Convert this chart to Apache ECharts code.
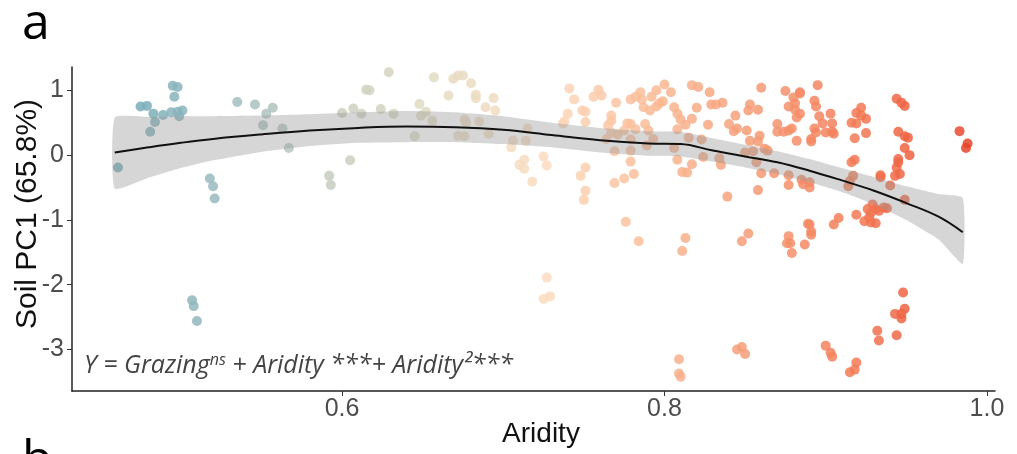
<!DOCTYPE html>
<html>
<head>
<meta charset="utf-8">
<script src="https://cdn.jsdelivr.net/npm/echarts@6/dist/echarts.min.js"></script>
<style>
  html, body { margin: 0; padding: 0; background: #fff; }
  #chart { width: 1017px; height: 454px; }
</style>
</head>
<body>
<div id="chart"></div>
<script>
// scatter: aridity vs soil PC1
const aridity = [
  0.461, 0.475, 0.479, 0.483, 0.484, 0.481, 0.489, 0.495, 0.498, 0.496, 0.494, 0.498, 0.501, 0.499,
  0.518, 0.520, 0.521, 0.535, 0.546, 0.557, 0.553, 0.551, 0.563, 0.567, 0.507, 0.508, 0.510,
  0.629, 0.615, 0.617, 0.600, 0.607, 0.612, 0.624, 0.632, 0.605, 0.592, 0.593,
  0.648, 0.649, 0.652, 0.656, 0.645, 0.657, 0.666, 0.669, 0.672, 0.675, 0.680, 0.683, 0.683,
  0.689, 0.694, 0.695, 0.676, 0.677, 0.685, 0.672, 0.676, 0.691, 0.706, 0.705, 0.714, 0.715,
  0.713, 0.710, 0.713, 0.718, 0.725, 0.727, 0.727, 0.725, 0.729,
  0.784, 0.813, 0.811, 0.848, 0.852, 0.776, 0.809, 0.809, 0.810, 0.845, 0.848, 0.850,
  0.741, 0.744, 0.756, 0.759, 0.761, 0.770, 0.779, 0.782, 0.785, 0.786, 0.792, 0.795, 0.800, 0.804,
  0.787, 0.795, 0.797, 0.799, 0.791, 0.749, 0.751, 0.740, 0.738, 0.737, 0.751, 0.767, 0.767, 0.765,
  0.777, 0.779, 0.788, 0.782, 0.790, 0.806, 0.808, 0.810, 0.813, 0.817, 0.808, 0.817, 0.821, 0.828,
  0.820, 0.829, 0.832, 0.836, 0.827, 0.840, 0.844, 0.843, 0.845, 0.853, 0.852, 0.858, 0.860, 0.851,
  0.853, 0.859, 0.858, 0.862, 0.864, 0.870, 0.870,
  0.767, 0.771, 0.775, 0.779, 0.764, 0.769, 0.779, 0.789, 0.793, 0.806, 0.815, 0.823, 0.824, 0.808,
  0.817, 0.811, 0.814, 0.834, 0.835, 0.850, 0.855, 0.857, 0.860, 0.868, 0.858, 0.839, 0.779, 0.781,
  0.775, 0.769, 0.751, 0.748, 0.751, 0.750,
  0.875, 0.884, 0.884, 0.880, 0.881, 0.877, 0.881, 0.884, 0.882, 0.895, 0.893, 0.894, 0.896, 0.898,
  0.903, 0.904, 0.893, 0.894, 0.900, 0.904, 0.905, 0.891, 0.891, 0.874, 0.877, 0.879, 0.882,
  0.877, 0.877, 0.885, 0.886, 0.890, 0.890, 0.916, 0.918, 0.917, 0.915, 0.914, 0.916, 0.919, 0.918,
  0.919, 0.922, 0.922, 0.925, 0.925, 0.944, 0.947, 0.949, 0.945, 0.949, 0.951, 0.949, 0.952, 0.945,
  0.945, 0.944, 0.946, 0.943, 0.934, 0.934, 0.940, 0.949, 0.983, 0.988, 0.987, 0.929, 0.926, 0.928,
  0.931, 0.933, 0.936, 0.938, 0.924, 0.928, 0.931, 0.927, 0.919, 0.908, 0.905, 0.890, 0.891, 0.891,
  0.877, 0.876, 0.878, 0.879, 0.887, 0.889, 0.948, 0.949, 0.943, 0.947, 0.947, 0.944, 0.932, 0.933,
  0.900, 0.904, 0.903, 0.919, 0.918, 0.915
];
const soilPC1 = [
  -0.19, 0.75, 0.76, 0.64, 0.51, 0.36, 0.62, 1.07, 1.05, 0.90, 0.66, 0.67, 0.69, 0.60,
  -0.36, -0.48, -0.67, 0.82, 0.78, 0.73, 0.64, 0.46, 0.41, 0.11, -2.24, -2.33, -2.56,
  1.28, 1.01, 1.00, 0.65, 0.72, 0.64, 0.71, 0.64, -0.08, -0.32, -0.46,
  0.79, 0.61, 0.67, 0.53, 0.29, 1.20, 0.92, 1.18, 1.23, 1.23, 1.11, 0.93, 0.88,
  0.74, 0.88, 0.69, 0.55, 0.50, 0.52, 0.30, 0.29, 0.33, 0.22, 0.12, 0.22, 0.41,
  -0.07, -0.15, -0.21, -0.41, -0.02, -0.16, -1.89, -2.22, -2.18,
  -1.33, -1.28, -1.48, -1.33, -1.21, -1.03, -3.15, -3.37, -3.42, -3.00, -2.96, -3.07,
  1.03, 0.86, 0.90, 1.01, 0.92, 0.81, 0.86, 0.90, 0.97, 0.86, 0.90, 1.00, 1.09, 0.97,
  0.74, 0.75, 0.80, 0.83, 0.69, 0.69, 0.67, 0.64, 0.52, 0.49, 0.51, 0.61, 0.53, 0.46,
  0.49, 0.48, 0.48, 0.40, 0.38, 0.74, 0.64, 0.55, 0.47, 0.56, 0.40, 1.08, 1.05, 0.97,
  0.73, 0.78, 0.78, 0.81, 0.47, 0.48, 0.61, 0.37, 0.41, 0.78, 0.69, 0.70, 1.04, 0.38,
  0.22, 0.30, 0.21, 0.10, 0.07, 0.48, 0.36,
  0.35, 0.32, 0.38, 0.24, 0.25, 0.06, 0.07, 0.15, 0.25, 0.11, 0.27, 0.24, -0.03, -0.07,
  -0.14, -0.26, -0.27, -0.05, -0.15, 0.04, 0.06, -0.11, -0.28, -0.28, -0.54, -0.64, -0.10, -0.29,
  -0.36, -0.43, -0.19, -0.32, -0.55, -0.69,
  0.99, 0.97, 0.95, 0.89, 0.80, 0.75, 0.70, 0.64, 0.58, 1.08, 0.84, 0.75, 0.60, 0.49,
  0.64, 0.49, 0.41, 0.35, 0.35, 0.36, 0.33, 0.25, 0.21, 0.36, 0.38, 0.41, 0.22,
  -0.31, -0.46, -0.38, -0.45, -0.42, -0.50, -0.11, -0.07, -0.32, -0.40, -0.48, 0.50, 0.49, 0.26,
  0.65, 0.73, 0.61, 0.56, 0.34, 0.87, 0.81, 0.76, 0.36, 0.29, 0.27, 0.11, 0.00, -0.06,
  -0.11, -0.19, -0.29, -0.32, -0.31, -0.34, -0.47, -0.69, 0.37, 0.18, 0.11, -0.76, -0.83, -0.89,
  -0.83, -0.86, -0.81, -0.82, -1.02, -1.04, -1.05, -0.96, -0.92, -0.97, -1.07, -1.07, -1.18, -1.23,
  -1.25, -1.36, -1.36, -1.51, -1.38, -1.06, -2.12, -2.37, -2.45, -2.52, -2.45, -2.78, -2.71, -2.86,
  -2.94, -3.11, -3.05, -3.20, -3.31, -3.35
];

// fitted curve with confidence band
const fitX  = [0.459, 0.48, 0.50, 0.52, 0.55, 0.58, 0.61, 0.64, 0.67, 0.70, 0.73, 0.76, 0.79, 0.81, 0.83, 0.85, 0.87, 0.89, 0.91, 0.93, 0.95, 0.97, 0.985];
const fitY  = [0.04, 0.12, 0.19, 0.25, 0.32, 0.38, 0.42, 0.44, 0.43, 0.39, 0.31, 0.23, 0.18, 0.17, 0.07, -0.02, -0.11, -0.24, -0.39, -0.55, -0.74, -0.95, -1.19];
const fitLo = [-0.52, -0.35, -0.20, -0.08, 0.05, 0.14, 0.19, 0.20, 0.20, 0.17, 0.12, 0.04, -0.01, -0.02, -0.10, -0.19, -0.29, -0.42, -0.57, -0.76, -1.00, -1.30, -1.68];
const fitHi = [0.58, 0.59, 0.60, 0.60, 0.61, 0.63, 0.66, 0.68, 0.66, 0.60, 0.50, 0.42, 0.37, 0.36, 0.26, 0.16, 0.06, -0.06, -0.20, -0.34, -0.48, -0.60, -0.66];

const xTicks = [0.6, 0.8, 1.0];
const yTicks = [-3, -2, -1, 0, 1];

const chart = echarts.init(document.getElementById('chart'));

const scatterData = aridity.map((x, i) => [x, soilPC1[i]]);
const lineData = fitX.map((x, i) => [x, fitY[i]]);

const option = {
  animation: false,
  backgroundColor: '#fff',
  grid: { left: 72, right: 22, top: 67, bottom: 63, containLabel: false },
  visualMap: {
    show: false,
    type: 'continuous',
    seriesIndex: 0,
    dimension: 0,
    min: 0.46,
    max: 0.99,
    inRange: {
      color: ['#6fa9b7', '#9dbcc0', '#c6cdc0', '#e3dcc2', '#fcdcc0', '#f9bb95', '#f59a74', '#f27753', '#e8452a']
    }
  },
  xAxis: {
    type: 'value',
    min: 0.4325,
    max: 1.005,
    splitLine: { show: false },
    axisLine: { onZero: false, lineStyle: { color: '#222', width: 1.5 } },
    axisTick: { show: true, length: 5, customValues: xTicks, lineStyle: { color: '#333' } },
    axisLabel: {
      customValues: xTicks,
      formatter: v => v.toFixed(1),
      color: '#4d4d4d',
      fontSize: 25,
      fontFamily: 'Liberation Sans',
      margin: 6
    }
  },
  yAxis: {
    type: 'value',
    min: -3.64,
    max: 1.36,
    splitLine: { show: false },
    axisLine: { show: true, onZero: false, lineStyle: { color: '#222', width: 1.5 } },
    axisTick: { show: true, length: 5, customValues: yTicks, lineStyle: { color: '#333' } },
    axisLabel: {
      customValues: yTicks,
      color: '#4d4d4d',
      fontSize: 25,
      fontFamily: 'Liberation Sans',
      margin: 8
    }
  },
  series: [
    {
      type: 'scatter',
      data: scatterData,
      symbolSize: 10,
      itemStyle: { opacity: 0.85 },
      z: 2
    },
    {
      type: 'custom',
      data: [0],
      z: 3,
      silent: true,
      renderItem: (params, api) => {
        const pts = [];
        fitX.forEach((x, i) => pts.push(api.coord([x, fitHi[i]])));
        for (let i = fitX.length - 1; i >= 0; i--) pts.push(api.coord([fitX[i], fitLo[i]]));
        return {
          type: 'polygon',
          shape: { points: pts, smooth: 0.15 },
          style: { fill: 'rgba(153,153,153,0.4)' }
        };
      }
    },
    {
      type: 'line',
      data: lineData,
      smooth: 0.4,
      symbol: 'none',
      lineStyle: { color: '#111', width: 2 },
      z: 4
    }
  ],
  graphic: [
    {
      type: 'text', x: 22, y: 0,
      style: { text: 'a', font: '50px "Open Sans"', fill: '#000', verticalAlign: 'top' }
    },
    {
      type: 'text', x: 22, y: 437,
      style: { text: 'b', font: '50px "Open Sans"', fill: '#000', verticalAlign: 'top' }
    },
    {
      type: 'text', x: 28, y: 214, rotation: Math.PI / 2,
      style: { text: 'Soil PC1 (65.8%)', font: '30px "Liberation Sans"', fill: '#111', align: 'center', verticalAlign: 'middle' }
    },
    {
      type: 'text', x: 541, y: 434,
      style: { text: 'Aridity', font: '28px "Liberation Sans"', fill: '#111', align: 'center', verticalAlign: 'middle' }
    },
    {
      type: 'text', x: 84, y: 366,
      style: {
        text: '{m|Y = Grazing}{s|ns}{m| + Aridity ***+ Aridity²***}',
        verticalAlign: 'middle',
        rich: {
          m: { font: 'italic 25px "Open Sans"', fill: '#444' },
          s: { font: 'italic 16px "Open Sans"', fill: '#444', verticalAlign: 'top', padding: [0, 0, 12, 0] }
        }
      }
    }
  ]
};

chart.setOption(option);
</script>
</body>
</html>
